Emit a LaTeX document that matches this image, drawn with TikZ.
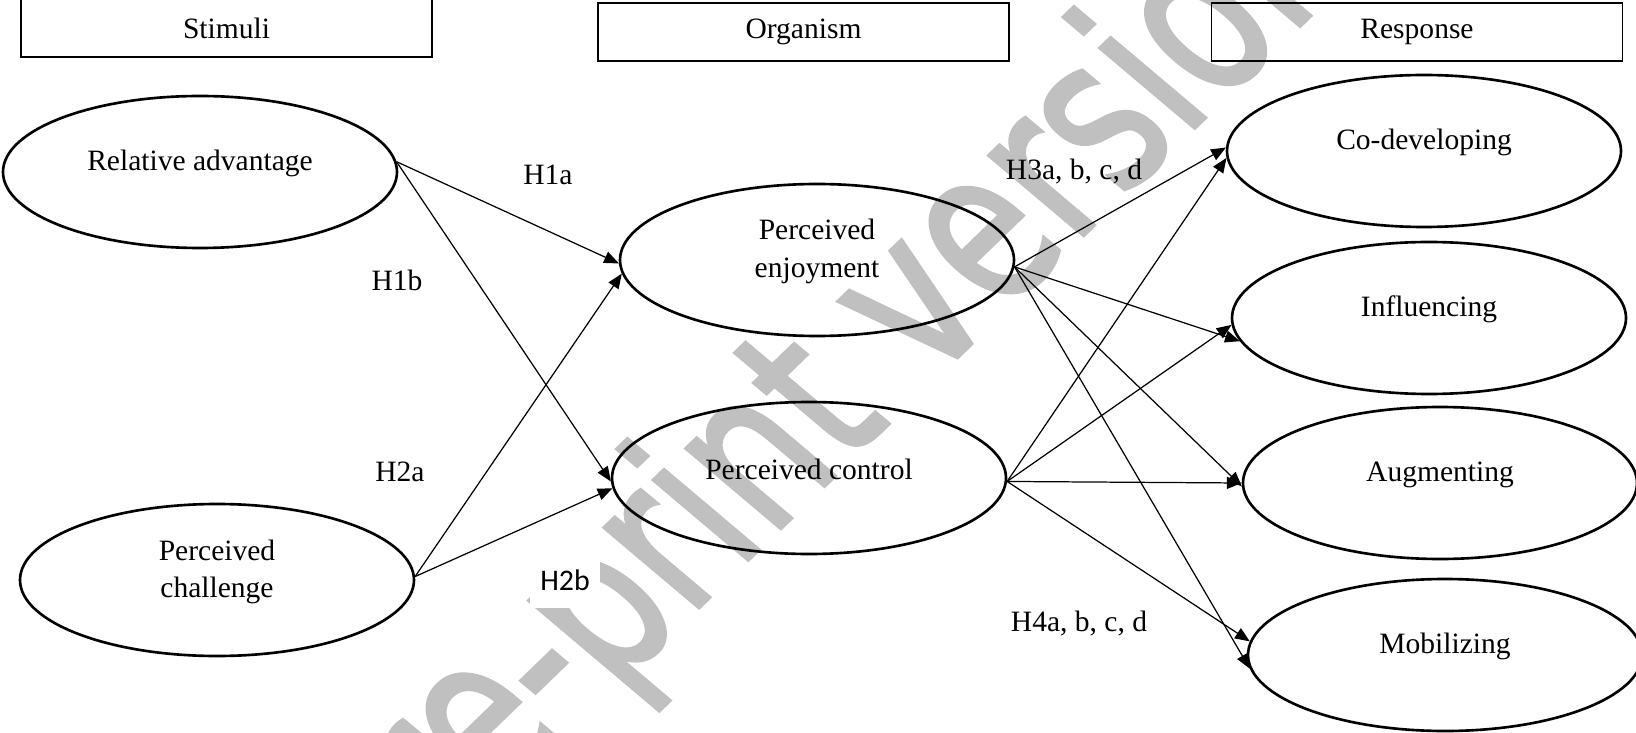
\documentclass[tikz,border=0pt]{standalone}
\usepackage{fontspec}
\setmainfont{Liberation Serif}
\newfontfamily\calfont{Carlito}
\newfontfamily\wmfont[FakeBold=2]{DejaVu Sans}
\usetikzlibrary{shapes.geometric, arrows.meta, calc}
\definecolor{wm}{RGB}{192, 192, 192}

\begin{document}
\begin{tikzpicture}[x=0.1mm, y=-0.1mm,
		hdr/.style={draw, line width=0.5pt, minimum width=41.1mm, minimum height=5.8mm, inner sep=0pt, font=\fontsize{8.4}{10}\selectfont},
		ell/.style={ellipse, draw, line width=0.75pt, minimum width=39.4mm, minimum height=15.2mm, inner sep=0pt},
		lab/.style={font=\fontsize{8.4}{10.6}\selectfont, align=center, yshift=2.4pt},
		hyp/.style={font=\fontsize{8.4}{10}\selectfont, inner sep=1pt},
		arr/.style={line width=0.35pt, -{Triangle[length=4.2pt, width=3.4pt]}}]
				\useasboundingbox (0, 0) rectangle (1636, 733);
				
				% watermark
				\begin{scope}[shift={(822, 402)}, cm={3.38, 3.27, -4.89, 4.13, (0, 0)}]
					\node[transform shape, text=wm, font=\wmfont\fontsize{10}{12}\selectfont] (wmark) at (0, 0) {pre-print version};
				\end{scope}
				
				\node[hdr] (stim) at (226.5, 28) {Stimuli};
				\node[hdr] (org) at (803.5, 32) {Organism};
				\node[hdr] (resp) at (1417, 32) {Response};
				
				\node[ell, label={[lab]center:Relative advantage}] (ra) at (200, 172) {};
				\node[ell, label={[lab]center:Perceived\\challenge}] (pc) at (217, 580) {};
				\node[ell, label={[lab]center:Perceived\\enjoyment}] (pe) at (817, 260) {};
				\node[ell, label={[lab]center:Perceived control}] (pcon) at (809, 478) {};
				\node[ell, label={[lab]center:Co-developing}] (cd) at (1424, 151) {};
				\node[ell, label={[lab]center:Influencing}] (infl) at (1429, 318) {};
				\node[ell, label={[lab]center:Augmenting}] (aug) at (1440, 483) {};
				\node[ell, label={[lab]center:Mobilizing}] (mob) at (1445, 655) {};
				
				\node[hyp] (h1a) at (548, 175) {H1a};
				\node[hyp] (h1b) at (397, 280) {H1b};
				\node[hyp] (h2a) at (400, 472) {H2a};
				\node[hyp, fill=white, minimum width=7mm, minimum height=5.5mm, font=\calfont\fontsize{8.5}{10}\selectfont] (h2b) at (565, 580) {H2b};
				\node[hyp] (h3) at (1074, 172) {H3a, b, c, d};
				\node[hyp] (h4) at (1079, 624) {H4a, b, c, d};
				
				% stimuli -> organism
				\draw[arr] (ra.3) -- (pe.181);
				\draw[arr] (ra.3) -- (pcon.181);
				\draw[arr] (pc.1) -- (pe.184);
				\draw[arr] (pc.1) -- (pcon.183);
				
				% organism -> response
				\draw[arr] (pe.-2) -- (cd.179);
				\draw[arr] (pe.-2) -- (infl.187);
				\draw[arr] (pe.-2) -- (aug.181);
				\draw[arr] (pe.-2) -- (mob.184);
				\draw[arr] (pcon.-1) -- (cd.182);
				\draw[arr] (pcon.-1) -- (infl.182);
				\draw[arr] (pcon.-1) -- (aug.180);
				\draw[arr] (pcon.-1) -- (mob.176);
\end{tikzpicture}
\end{document}
